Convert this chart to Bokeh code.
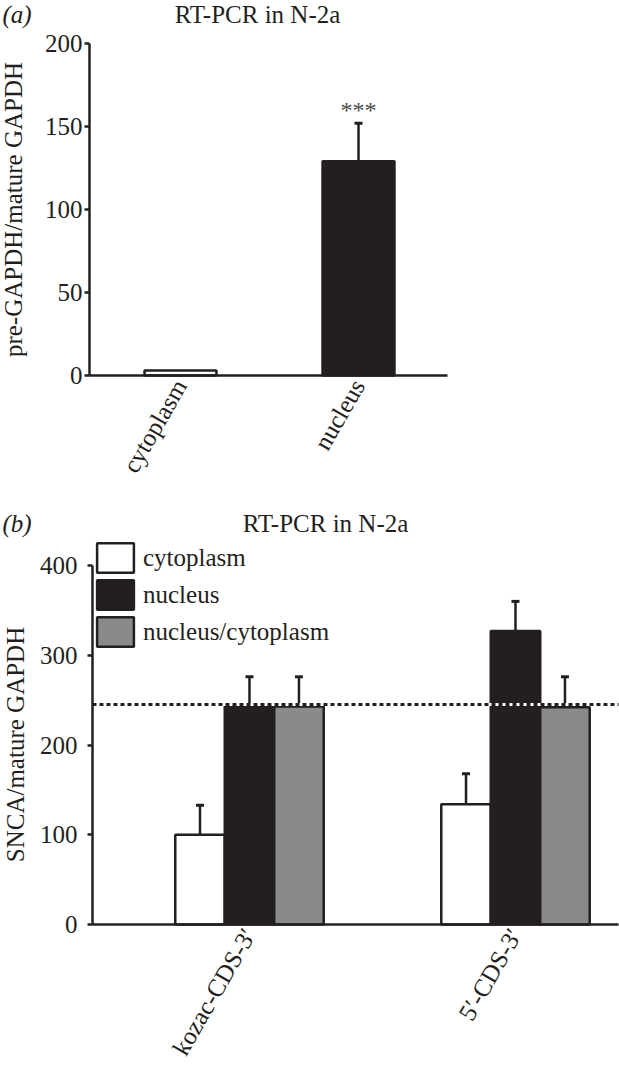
import math
from bokeh.plotting import figure
from bokeh.models import (ColumnDataSource, FixedTicker, Whisker, TeeHead, Label,
                          Legend, LegendItem)
from bokeh.embed import file_html
from bokeh.resources import INLINE

# ---------------- data: panel (a) ----------------
a_categories = ["cytoplasm", "nucleus"]
a_values = [3, 129]
a_errors = [0, 23]
a_yticks = [0, 50, 100, 150, 200]
a_title = "RT-PCR in N-2a"
a_ylabel = "pre-GAPDH/mature GAPDH"
a_significance = "***"

# ---------------- data: panel (b) ----------------
b_genes = ["kozac-CDS-3\u2032", "5\u2032-CDS-3\u2032"]
b_series = ["cytoplasm", "nucleus", "nucleus/cytoplasm"]
b_cytoplasm = [100, 134]
b_cytoplasm_err = [33, 34]
b_nucleus = [243, 327]
b_nucleus_err = [33, 33]
b_ratio = [243, 242]
b_ratio_err = [33, 34]
b_yticks = [0, 100, 200, 300, 400]
b_reference_level = 245
b_title = "RT-PCR in N-2a"
b_ylabel = "SNCA/mature GAPDH"

# ---------------- style ----------------
FONT = "Liberation Serif"
INK = "#231f20"
GRAY = "#8a8a8a"
FS = "25px"
W = 619


def make_fig(height, xr, yr, x_axis_span, y_axis_span, yticks, tick_standoff):
    p = figure(width=W, height=height, x_range=xr, y_range=yr,
               output_backend="svg", toolbar_location=None, min_border=0)
    p.xgrid.visible = False
    p.ygrid.visible = False
    p.outline_line_color = None
    p.background_fill_color = "white"
    p.border_fill_color = "white"
    for ax in (p.xaxis[0], p.yaxis[0]):
        ax.axis_line_color = INK
        ax.axis_line_width = 2.5
        ax.major_label_text_font = FONT
        ax.major_label_text_font_size = FS
        ax.major_label_text_color = INK
        ax.minor_tick_line_color = None
    xa = p.xaxis[0]
    xa.fixed_location = y_axis_span[0]
    xa.bounds = x_axis_span
    xa.major_tick_line_color = None
    xa.major_tick_out = 0
    xa.major_tick_in = 0
    xa.major_label_orientation = math.pi / 3
    xa.major_label_standoff = 6
    ya = p.yaxis[0]
    ya.fixed_location = x_axis_span[0]
    ya.bounds = y_axis_span
    ya.ticker = FixedTicker(ticks=yticks)
    ya.major_tick_out = 5
    ya.major_tick_in = 0
    ya.major_tick_line_color = INK
    ya.major_tick_line_width = 2.5
    ya.major_label_standoff = tick_standoff
    return p


def text_label(p, height, px, py, text, align="center", style="normal", angle=None):
    kw = dict(x=px, y=height - py, x_units="screen", y_units="screen", text=text,
              text_align=align, text_baseline="middle", text_font=FONT,
              text_font_size=FS, text_font_style=style, text_color=INK)
    if angle is not None:
        kw["angle"] = angle
    p.add_layout(Label(**kw))


# ---------------- panel (a) ----------------
HA = 500
pa = make_fig(HA, (-0.011, 3.466), (-75.3, 225.9), (0.489, 2.5), (0, 200),
              a_yticks, 2)

a_x = [i + 1 for i in range(len(a_categories))]
a_src = ColumnDataSource(dict(
    x=a_x, top=a_values,
    fill=["white" if c == "cytoplasm" else INK for c in a_categories]))
pa.vbar(x="x", top="top", width=0.404, bottom=0, source=a_src,
        fill_color="fill", line_color=INK, line_width=2.5)

a_w = [(x, v, v + e) for x, v, e in zip(a_x, a_values, a_errors) if e > 0]
a_wsrc = ColumnDataSource(dict(x=[t[0] for t in a_w], lower=[t[1] for t in a_w],
                               upper=[t[2] for t in a_w]))
pa.add_layout(Whisker(base="x", lower="lower", upper="upper", source=a_wsrc,
                      dimension="height", line_color=INK, line_width=2.5,
                      lower_head=None,
                      upper_head=TeeHead(size=8, line_color=INK, line_width=3)))

pa.xaxis[0].ticker = FixedTicker(ticks=a_x)
pa.xaxis[0].major_label_overrides = {x: c for x, c in zip(a_x, a_categories)}

pa.add_layout(Label(x=a_x[1], y=a_values[1] + a_errors[1], text=a_significance,
                    text_align="center", text_baseline="bottom",
                    text_font=FONT, text_font_size="24px", text_color="#4a4a4a"))
text_label(pa, HA, 2, 14, "(a)", align="left", style="italic")
text_label(pa, HA, 257, 14, a_title)
text_label(pa, HA, 13, 209, a_ylabel, angle=math.pi / 2)

# ---------------- panel (b) ----------------
HB = 575
b_axis_x = (0.4098, 2.387)
pb = make_fig(HB, (0.064, 2.391), (-168.2, 472.4), b_axis_x, (0, 400),
              b_yticks, 10)

b_x = [i + 1 for i in range(len(b_genes))]
offsets = [-0.186, 0.0, 0.186]
bar_w = 0.186
series_vals = [b_cytoplasm, b_nucleus, b_ratio]
series_errs = [b_cytoplasm_err, b_nucleus_err, b_ratio_err]
series_fill = ["white", INK, GRAY]

items = []
for name, vals, errs, off, fill in zip(b_series, series_vals, series_errs,
                                       offsets, series_fill):
    xs = [x + off for x in b_x]
    src = ColumnDataSource(dict(x=xs, top=vals, lower=vals,
                                upper=[v + e for v, e in zip(vals, errs)]))
    r = pb.vbar(x="x", top="top", bottom=0, width=bar_w, source=src,
                fill_color=fill, line_color=INK, line_width=2.5)
    pb.add_layout(Whisker(base="x", lower="lower", upper="upper", source=src,
                          dimension="height", line_color=INK, line_width=2.5,
                          lower_head=None,
                          upper_head=TeeHead(size=8, line_color=INK, line_width=3)))
    items.append(LegendItem(label=name, renderers=[r]))

# dotted reference level: white under-stroke, black dashes on top
ref_src = ColumnDataSource(dict(x0=[b_axis_x[0]], x1=[b_axis_x[1]],
                                y=[b_reference_level]))
pb.segment(x0="x0", x1="x1", y0="y", y1="y", source=ref_src,
           line_color="white", line_width=3)
pb.segment(x0="x0", x1="x1", y0="y", y1="y", source=ref_src,
           line_color=INK, line_width=3, line_dash="4 3")

pb.xaxis[0].ticker = FixedTicker(ticks=b_x)
pb.xaxis[0].major_label_overrides = {x: g for x, g in zip(b_x, b_genes)}

legend = Legend(items=items, location=(92, 425), margin=0, padding=3,
                glyph_width=46, glyph_height=37, label_height=37, spacing=-3,
                label_standoff=5, label_text_font=FONT, label_text_font_size=FS,
                label_text_color=INK, background_fill_alpha=0,
                border_line_color=None)
pb.add_layout(legend)

text_label(pb, HB, 2, 23, "(b)", align="left", style="italic")
text_label(pb, HB, 325, 23, b_title)
text_label(pb, HB, 15, 244, b_ylabel, angle=math.pi / 2)

open("out.html", "w").write(file_html([pa, pb], INLINE))
